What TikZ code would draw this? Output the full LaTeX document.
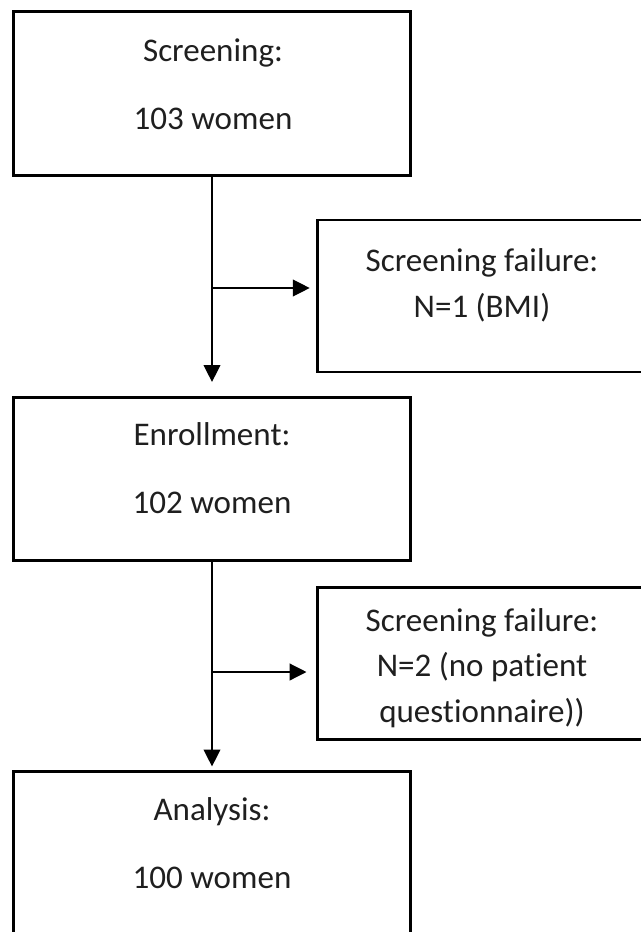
\documentclass[tikz,border=0pt]{standalone}
\usepackage{fontspec}
\setmainfont[Ligatures=NoCommon]{Carlito}
\usetikzlibrary{positioning,calc,arrows.meta}

\begin{document}
\begin{tikzpicture}[x=0.025cm, y=-0.025cm,
    mainbox/.style={draw, line width=2.1pt, minimum width=9.9cm, minimum height=4.08cm, inner sep=0pt},
    failbox/.style={draw, line width=2.1pt, minimum width=8.2cm, minimum height=3.8cm, inner sep=0pt},
    maintext/.style={align=center, inner sep=0pt, text=black!88, font=\fontsize{23.5}{48.4}\selectfont},
    failtext/.style={align=center, inner sep=0pt, text=black!88, font=\fontsize{23.5}{32.5}\selectfont},
    flow/.style={line width=0.9pt, -{Triangle[width=12pt,length=12pt]}}]
  % Canvas
  \path[fill=white] (0,0) rectangle (640,932);
  \useasboundingbox (0,0) rectangle (640,932);

  % Main boxes
  \node[mainbox] (screen) at (212, 93.5) {};
  \node[maintext] (screen-t) at (213, 84) {Screening:\\103 women};
  \node[mainbox] (enrol) at (212, 479) {};
  \node[maintext] (enrol-t) at (212, 468) {Enrollment:\\102 women};
  \node[mainbox] (analysis) at (212, 853.5) {};
  \node[maintext] (analysis-t) at (212, 843) {Analysis:\\100 women};

  % Failure boxes
  \node[failbox] (fail1) at (482, 296) {};
  \node[failtext] (fail1-t) at (482, 285.5) {Screening failure:\\N=1 (BMI)};
  \node[failbox] (fail2) at (482, 663.5) {};
  \node[failtext] (fail2-t) at (482, 668) {Screening failure:\\N=2 (no patient\\questionnaire))};

  % Arrows
  \coordinate (split1) at (212, 288);
  \coordinate (split2) at (212, 672);
  \draw[flow, shorten >=0.35cm] (screen) -- (enrol);
  \draw[flow, shorten >=0.17cm] (split1) -- (split1 -| fail1.west);
  \draw[flow, shorten >=0.1cm] (enrol) -- (analysis);
  \draw[flow, shorten >=0.25cm] (split2) -- (split2 -| fail2.west);
\end{tikzpicture}
\end{document}
